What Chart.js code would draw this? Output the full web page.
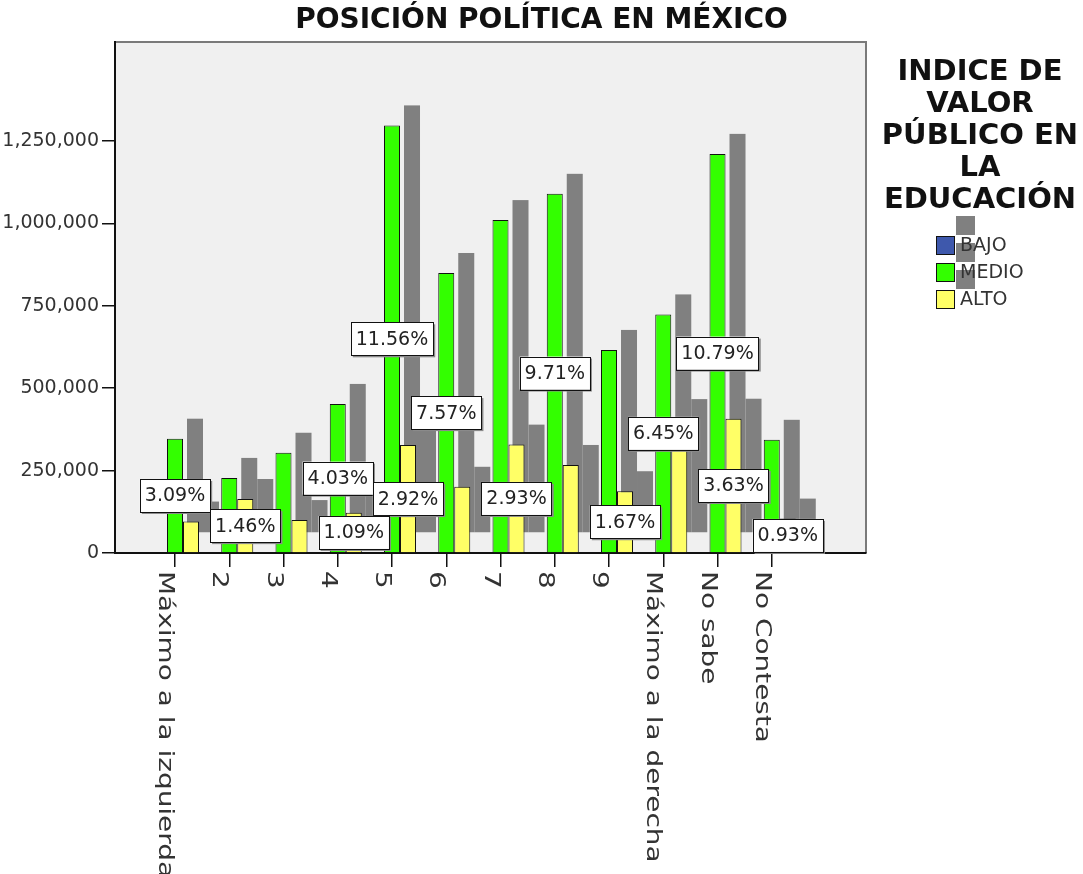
<!DOCTYPE html>
<html>
<head>
<meta charset="utf-8">
<script src="https://cdn.jsdelivr.net/npm/chart.js@4.4.1/dist/chart.umd.min.js"></script>
<style>
  html, body { margin: 0; padding: 0; background: #ffffff; }
  #wrap { width: 1083px; height: 874px; position: relative; }
</style>
</head>
<body>
<div id="wrap"><canvas id="chart" width="1083" height="874"></canvas></div>
<script>
// Political position categories (x axis)
const categories = ['Máximo a la izquierda', '2', '3', '4', '5', '6', '7', '8', '9',
                    'Máximo a la derecha', 'No sabe', 'No Contesta'];

// Index groups (legend)
const seriesNames = ['BAJO', 'MEDIO', 'ALTO'];
const seriesColors = ['#3e58ac', '#33ff00', '#ffff66'];

// Share of all respondents per bar, in percent
const bajoPct  = [0, 0, 0, 0, 0, 0, 0, 0, 0, 0, 0, 0];
const medioPct = [3.09, 2.03, 2.71, 4.03, 11.56, 7.57, 9.00, 9.71, 5.49, 6.45, 10.79, 3.06];
const altoPct  = [0.85, 1.46, 0.89, 1.09, 2.92, 1.79, 2.93, 2.38, 1.67, 3.62, 3.63, 0.93];

// Weighted population the percentages refer to
const totalPopulation = 11220000;

// Count axis ticks
const yTicks = [0, 250000, 500000, 750000, 1000000, 1250000];

const chartTitle = 'POSICIÓN POLÍTICA EN MÉXICO';
const legendTitle = ['INDICE DE', 'VALOR', 'PÚBLICO EN', 'LA', 'EDUCACIÓN'];

const FONT = 'DejaVu Sans';

const toPoints = pcts => pcts.map((p, i) => ({ x: i, y: p / 100 * totalPopulation, pct: p }));
const seriesPcts = [bajoPct, medioPct, altoPct];

// Plot background and frame
const plotFrame = {
  id: 'plotFrame',
  beforeDraw(chart) {
    const { ctx, chartArea: a } = chart;
    ctx.save();
    ctx.fillStyle = '#ffffff';
    ctx.fillRect(0, 0, chart.width, chart.height);
    ctx.fillStyle = '#f0f0f0';
    ctx.fillRect(a.left, a.top, a.right - a.left, a.bottom - a.top);
    ctx.strokeStyle = '#7a7a7a';
    ctx.lineWidth = 2;
    ctx.beginPath();
    ctx.moveTo(a.left, a.top);
    ctx.lineTo(a.right, a.top);
    ctx.lineTo(a.right, a.bottom);
    ctx.stroke();
    ctx.restore();
  }
};

// Drop shadow behind every bar
const barShadow = {
  id: 'barShadow',
  beforeDatasetsDraw(chart) {
    const ctx = chart.ctx;
    ctx.save();
    ctx.fillStyle = '#808080';
    chart.data.datasets.forEach((ds, di) => {
      chart.getDatasetMeta(di).data.forEach(bar => {
        const { x, y, base, width } = bar.getProps(['x', 'y', 'base', 'width'], true);
        if (base - y < 0.5) return;
        ctx.fillRect(x - width / 2 + 20, y - 20, width, base - y);
      });
    });
    ctx.restore();
  }
};

// Percentage labels in the middle of each bar; larger values win when boxes collide
const pctLabels = {
  id: 'pctLabels',
  afterDatasetsDraw(chart) {
    const ctx = chart.ctx;
    ctx.save();
    ctx.font = `19px "${FONT}"`;
    const items = [];
    chart.data.datasets.forEach((ds, di) => {
      chart.getDatasetMeta(di).data.forEach((bar, i) => {
        const p = ds.data[i].pct;
        if (!p) return;
        const { x, y, base } = bar.getProps(['x', 'y', 'base'], true);
        const text = p.toFixed(2) + '%';
        const w = ctx.measureText(text).width + 10;
        const h = 33;
        const cy = (y + base) / 2;
        items.push({ p, text, x0: x - w / 2, y0: cy - h / 2, w, h, cx: x, cy });
      });
    });
    items.sort((a, b) => b.p - a.p);
    const placed = [];
    const tol = 2;
    items.forEach(it => {
      const hit = placed.some(q =>
        Math.min(it.x0 + it.w, q.x0 + q.w) - Math.max(it.x0, q.x0) > tol &&
        Math.min(it.y0 + it.h, q.y0 + q.h) - Math.max(it.y0, q.y0) > tol);
      if (!hit) placed.push(it);
    });
    placed.forEach(it => {
      ctx.fillStyle = '#8a8a8a';
      ctx.fillRect(it.x0 + 2, it.y0 + 2, it.w, it.h);
      ctx.fillStyle = '#ffffff';
      ctx.fillRect(it.x0, it.y0, it.w, it.h);
      ctx.strokeStyle = '#111111';
      ctx.lineWidth = 1;
      ctx.strokeRect(Math.round(it.x0) + 0.5, Math.round(it.y0) + 0.5, Math.round(it.w), Math.round(it.h));
      ctx.fillStyle = '#222222';
      ctx.textAlign = 'center';
      ctx.textBaseline = 'middle';
      ctx.fillText(it.text, it.cx, it.cy + 1);
    });
    ctx.restore();
  }
};

// Vertical category labels, reading downward from each tick
const categoryLabels = {
  id: 'categoryLabels',
  afterDraw(chart) {
    const ctx = chart.ctx;
    const xs = chart.scales.x;
    ctx.save();
    ctx.font = `22px "${FONT}"`;
    ctx.fillStyle = '#333333';
    ctx.textAlign = 'left';
    ctx.textBaseline = 'alphabetic';
    categories.forEach((label, i) => {
      const px = xs.getPixelForValue(i);
      ctx.save();
      ctx.translate(px - 16, chart.chartArea.bottom + 18);
      ctx.rotate(Math.PI / 2);
      ctx.scale(1.27, 1);
      ctx.fillText(label, 0, 0);
      ctx.restore();
    });
    ctx.restore();
  }
};

// Chart title and legend block
const titleAndLegend = {
  id: 'titleAndLegend',
  afterDraw(chart) {
    const ctx = chart.ctx;
    ctx.save();
    ctx.fillStyle = '#111111';
    ctx.textAlign = 'center';
    ctx.textBaseline = 'middle';
    ctx.font = `bold 28px "${FONT}"`;
    ctx.fillText(chartTitle, chart.width / 2, 21);

    ctx.font = `bold 29px "${FONT}"`;
    legendTitle.forEach((line, k) => ctx.fillText(line, 980, 72 + k * 32));

    const sw = 18;
    const x0 = 936;
    const rowY = [245, 272, 299];
    // swatch shadows first
    ctx.fillStyle = '#808080';
    rowY.forEach(cy => ctx.fillRect(x0 + 20, cy - sw / 2 - 20, sw + 1, sw + 1));
    chart.data.datasets.forEach((ds, k) => {
      const cy = rowY[k];
      ctx.fillStyle = ds.backgroundColor;
      ctx.fillRect(x0, cy - sw / 2, sw, sw);
      ctx.strokeStyle = '#111111';
      ctx.lineWidth = 1;
      ctx.strokeRect(x0 + 0.5, Math.round(cy - sw / 2) + 0.5, sw, sw);
      ctx.fillStyle = '#333333';
      ctx.textAlign = 'left';
      ctx.font = `19px "${FONT}"`;
      ctx.fillText(ds.label, x0 + sw + 6, cy + 1);
    });
    ctx.restore();
  }
};

new Chart(document.getElementById('chart'), {
  type: 'bar',
  data: {
    datasets: seriesNames.map((name, k) => ({
      label: name,
      data: toPoints(seriesPcts[k]),
      backgroundColor: seriesColors[k],
      borderColor: '#111111',
      borderWidth: 1,
      borderSkipped: 'start'
    }))
  },
  options: {
    responsive: false,
    animation: false,
    layout: { padding: { top: 42, right: 217, left: 0, bottom: 0 } },
    datasets: { bar: { categoryPercentage: 0.885, barPercentage: 1 } },
    plugins: {
      legend: { display: false },
      title: { display: false },
      tooltip: { enabled: false }
    },
    scales: {
      x: {
        type: 'linear',
        bounds: 'data',
        min: -1.106,
        max: 12.737,
        offset: false,
        grid: { display: true, drawOnChartArea: false, drawTicks: true, tickLength: 14,
                color: '#111111', lineWidth: 1.5, offset: false },
        border: { display: true, color: '#111111', width: 2 },
        ticks: { display: false },
        afterBuildTicks: s => { s.ticks = categories.map((_, i) => ({ value: i })); },
        afterFit: s => { s.height = 874 - 553; }
      },
      y: {
        type: 'linear',
        bounds: 'data',
        min: 0,
        max: 1550000,
        grid: { display: true, drawOnChartArea: false, drawTicks: true, tickLength: 13,
                color: '#111111', lineWidth: 1.5 },
        border: { display: true, color: '#111111', width: 2 },
        ticks: {
          padding: 3,
          color: '#333333',
          font: { family: FONT, size: 19 },
          callback: v => Number(v).toLocaleString('en-US')
        },
        afterBuildTicks: s => { s.ticks = yTicks.map(v => ({ value: v })); },
        afterFit: s => { s.width = 115; }
      }
    }
  },
  plugins: [plotFrame, barShadow, pctLabels, categoryLabels, titleAndLegend]
});
</script>
</body>
</html>
